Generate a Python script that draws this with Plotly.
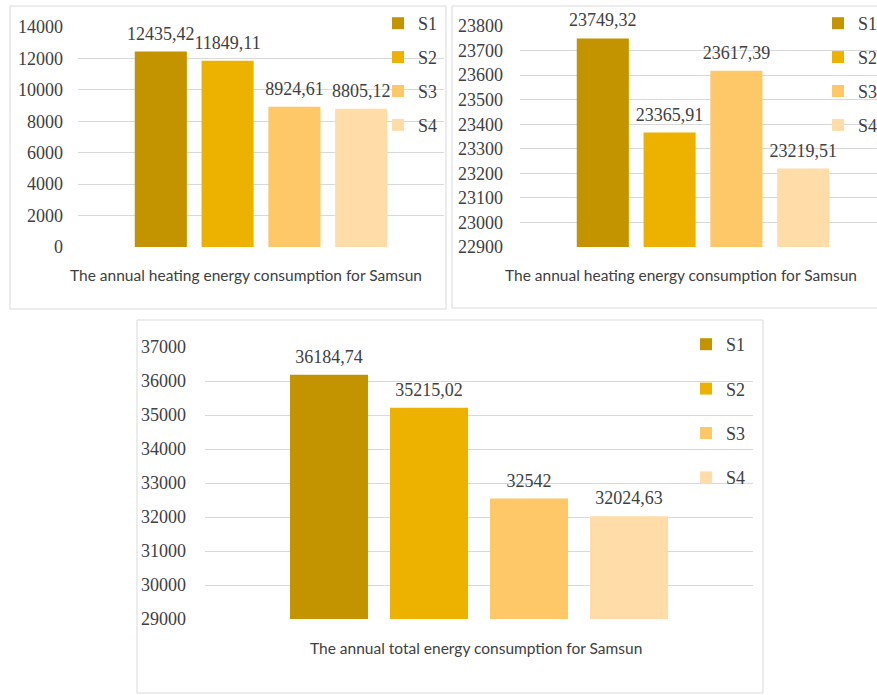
import plotly.graph_objects as go

series = ["S1", "S2", "S3", "S4"]
colors = ["#C49400", "#EDB200", "#FEC868", "#FFDCA8"]

cat1 = ["The annual heating energy consumption for Samsun"]
cat2 = ["The annual heating energy consumption for Samsun"]
cat3 = ["The annual total energy consumption for Samsun"]

vals1 = [12435.42, 11849.11, 8924.61, 8805.12]
vals2 = [23749.32, 23365.91, 23617.39, 23219.51]
vals3 = [36184.74, 35215.02, 32542.0, 32024.63]

W, H = 877, 695
SERIF = "Liberation Serif, Times New Roman, serif"
SANS = "Lato, Open Sans, sans-serif"
TXT = "#404040"
GRID = "#D9D9D9"


def fmt(v):
    s = f"{v:.2f}".rstrip("0").rstrip(".")
    return s.replace(".", ",")


pad = "<span style='font-size:40px'>\u00a0</span>"

fig = go.Figure()

panels = [
    (cat1, vals1, "x", "y", "legend"),
    (cat2, vals2, "x2", "y2", "legend2"),
    (cat3, vals3, "x3", "y3", "legend3"),
]
for pi, (cats, vals, xa, ya, lg) in enumerate(panels):
    for s, v, c in zip(series, vals, colors):
        fig.add_trace(go.Bar(
            x=cats, y=[v], name=s, marker_color=c, marker_line_width=0,
            text=[fmt(v)], texttemplate=pad + "%{text}" + pad,
            textposition="outside", constraintext="none", cliponaxis=False,
            textfont=dict(family=SERIF, size=18, color=TXT),
            xaxis=xa, yaxis=ya, legend=lg, legendgroup=f"p{pi}{s}",
            hoverinfo="skip",
        ))


def px(x):
    return x / W


def py(y):
    return 1 - y / H


yfont = dict(family=SERIF, size=18, color=TXT)
common_y = dict(showgrid=True, gridcolor=GRID, gridwidth=1, zeroline=False,
                showline=False, ticks="", tickfont=yfont, tickformat="d")
common_x = dict(type="category", showgrid=False, showticklabels=False,
                showline=False, zeroline=False, ticks="")

plotw = 366
fig.update_layout(
    width=W, height=H,
    margin=dict(l=0, r=0, t=0, b=0, autoexpand=False),
    paper_bgcolor="white", plot_bgcolor="white",
    barmode="group", bargap=0.27, bargroupgap=0.22,
    showlegend=True,
    xaxis=dict(domain=[px(78), px(444)], range=[-0.5, 0.5], anchor="y", **common_x),
    yaxis=dict(domain=[py(247), py(27)], range=[0, 14000], dtick=2000,
               anchor="x", ticklabelstandoff=14, **common_y),
    xaxis2=dict(domain=[px(520), 1.0], range=[-0.5, -0.5 + (W - 520) / plotw],
                anchor="y2", **common_x),
    yaxis2=dict(domain=[py(247), py(26)], range=[22900, 23800], dtick=100,
                anchor="x2", ticklabelstandoff=16, **common_y),
    xaxis3=dict(domain=[px(205), px(753)], range=[-0.5, 0.5], anchor="y3", **common_x),
    yaxis3=dict(domain=[py(619), py(347)], range=[29000, 37000], dtick=1000,
                anchor="x3", ticklabelstandoff=18, **common_y),
)

legfont = dict(family=SERIF, size=18, color=TXT)
fig.update_layout(
    legend=dict(x=px(378), y=py(5), xanchor="left", yanchor="top",
                bgcolor="rgba(0,0,0,0)", font=legfont, tracegroupgap=7.5),
    legend2=dict(x=px(818), y=py(5), xanchor="left", yanchor="top",
                 bgcolor="rgba(0,0,0,0)", font=legfont, tracegroupgap=7.5),
    legend3=dict(x=px(686), y=py(326), xanchor="left", yanchor="top",
                 bgcolor="rgba(0,0,0,0)", font=legfont, tracegroupgap=18),
)

border = dict(type="rect", xref="paper", yref="paper",
              line=dict(color=GRID, width=1), fillcolor="rgba(0,0,0,0)", layer="below")
fig.add_shape(x0=px(10), x1=px(446), y0=py(309), y1=py(6), **border)
fig.add_shape(x0=px(452), x1=px(890), y0=py(308), y1=py(6), **border)
fig.add_shape(x0=px(137), x1=px(763), y0=py(693), y1=py(320), **border)

afont = dict(family=SANS, size=15.5, color=TXT)
fig.add_annotation(text=cat1[0], x=px(246), y=py(275), xref="paper", yref="paper",
                   showarrow=False, font=afont, xanchor="center", yanchor="middle")
fig.add_annotation(text=cat2[0], x=px(681), y=py(275), xref="paper", yref="paper",
                   showarrow=False, font=afont, xanchor="center", yanchor="middle")
fig.add_annotation(text=cat3[0], x=px(476), y=py(648), xref="paper", yref="paper",
                   showarrow=False, font=afont, xanchor="center", yanchor="middle")

fig.write_html("out.html")
